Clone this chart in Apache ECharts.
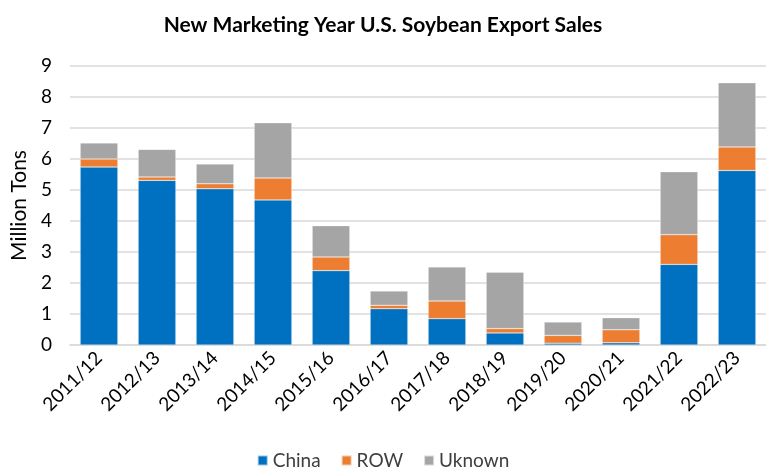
<!DOCTYPE html>
<html><head><meta charset="utf-8">
<script src="https://cdn.jsdelivr.net/npm/echarts@6/dist/echarts.min.js"></script>
<style>html,body{margin:0;padding:0;background:#fff}#c{width:766px;height:468px}</style>
</head><body><div id="c"></div>
<script>
const categories = ['2011/12','2012/13','2013/14','2014/15','2015/16','2016/17','2017/18','2018/19','2019/20','2020/21','2021/22','2022/23'];
const china   = [5.74,5.31,5.04,4.68,2.40,1.17,0.85,0.39,0.06,0.07,2.60,5.63];
const row     = [0.26,0.11,0.16,0.71,0.44,0.11,0.57,0.14,0.25,0.42,0.96,0.76];
const unknown = [0.52,0.89,0.64,1.78,1.01,0.46,1.10,1.82,0.43,0.39,2.03,2.07];
const yTicks  = [0,1,2,3,4,5,6,7,8,9];

const font = 'Lato, "Open Sans", sans-serif';
const chart = echarts.init(document.getElementById('c'), null, {renderer:'canvas'});
const mk = (name, data, color) => ({
  name, type:'bar', stack:'total', data, barWidth:'65%',
  itemStyle:{color, borderColor:'rgba(255,255,255,0.6)', borderWidth:0.5},
  emphasis:{disabled:true}
});
chart.setOption({
  animation:false,
  title:{text:'New Marketing Year U.S. Soybean Export Sales', left:'center', top:10,
    textStyle:{fontFamily:font, fontSize:21, fontWeight:'bold', color:'#000'}},
  grid:{left:70, right:0, top:66, bottom:123},
  legend:{bottom:-7, left:'center', itemWidth:10, itemHeight:10, itemGap:20,
    icon:'rect', textStyle:{fontFamily:font, fontSize:19, color:'#404040'}},
  xAxis:{type:'category', data:categories,
    axisLine:{show:true, lineStyle:{color:'#d9d9d9', width:1.5}},
    axisTick:{show:false},
    axisLabel:{rotate:45, fontFamily:font, fontSize:19, color:'#000', margin:10, interval:0}},
  yAxis:{type:'value', min:yTicks[0], max:yTicks[yTicks.length-1], interval:1,
    name:'Million Tons', nameLocation:'middle', nameGap:38,
    nameTextStyle:{fontFamily:font, fontSize:21, color:'#000'},
    axisLine:{show:false}, axisTick:{show:false},
    axisLabel:{fontFamily:font, fontSize:19, color:'#000', margin:18},
    splitLine:{lineStyle:{color:'#d9d9d9', width:1.5}}},
  series:[mk('China', china, '#0070C0'), mk('ROW', row, '#ED7D31'), mk('Uknown', unknown, '#A5A5A5')]
});
</script></body></html>
